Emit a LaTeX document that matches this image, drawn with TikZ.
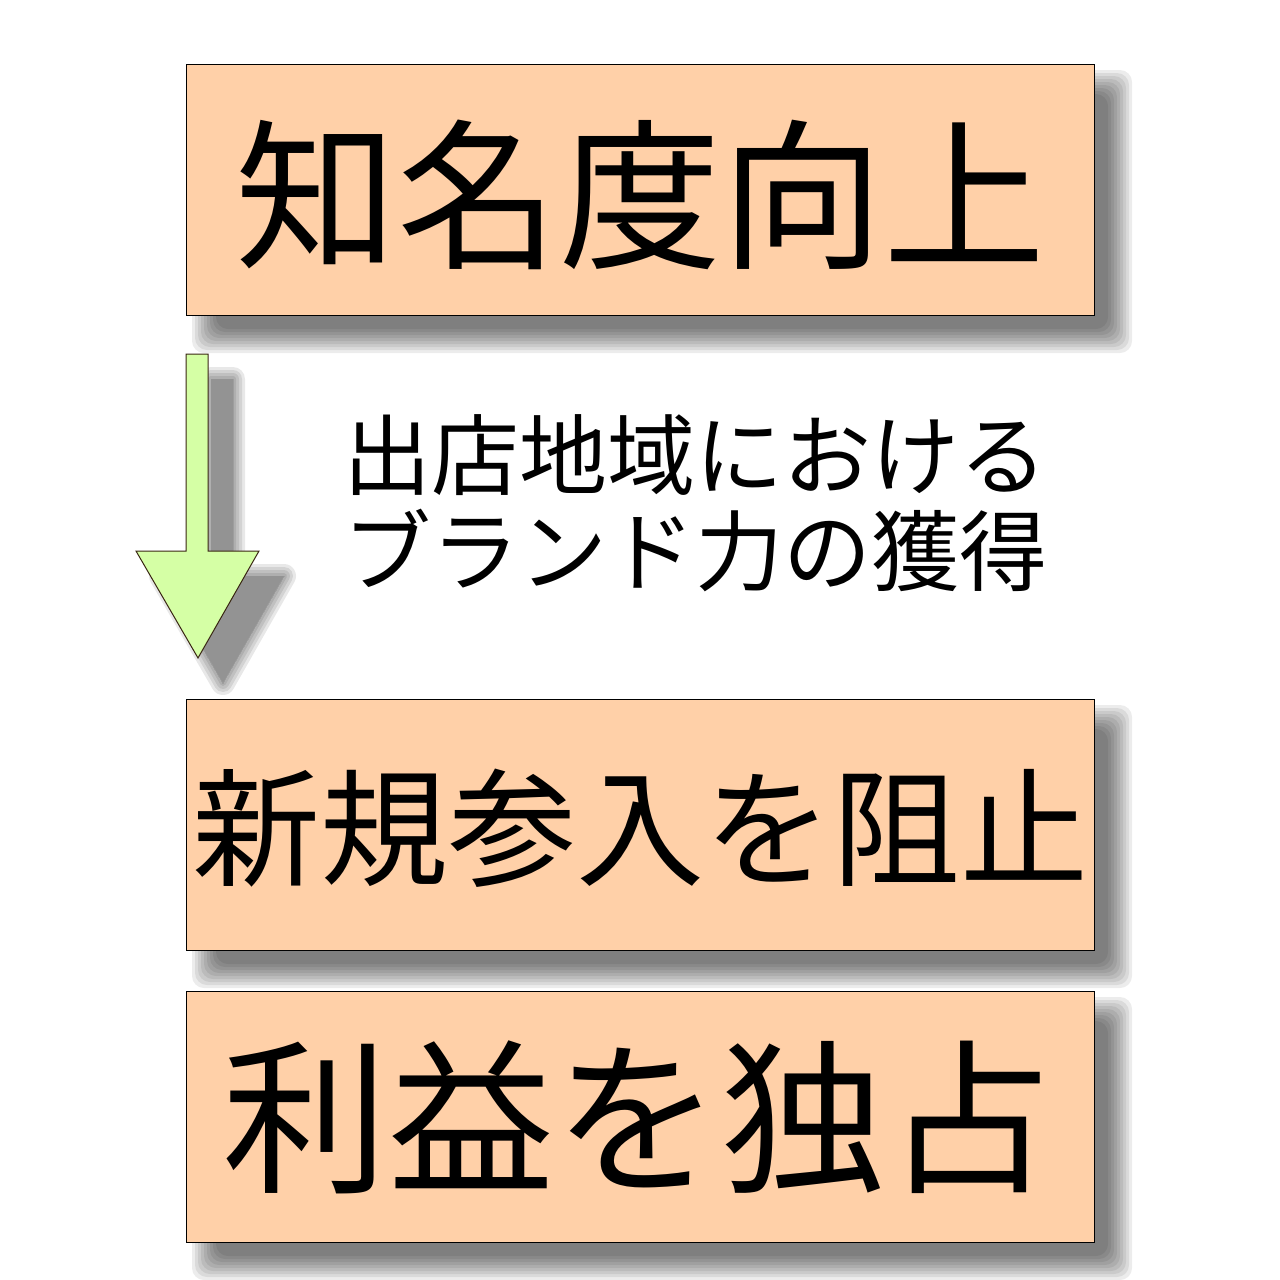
\documentclass[tikz,border=0pt]{standalone}
\usepackage{fontspec}
\setmainfont{Noto Sans CJK JP}
\definecolor{peach}{HTML}{FFD0A8}
\definecolor{lgreen}{HTML}{D5FFA5}
\tikzset{
  box/.style={draw=black, line width=1.2pt, fill=peach, minimum width=908pt, minimum height=251pt, inner sep=0pt, anchor=north west},
}
\newcommand{\boxshadow}[2]{% x,y of top-left
  \foreach \r in {16,13,10,7,4,1,-2,-5,-8}{
    \fill[black, opacity=0.075, rounded corners=12pt] (#1+22-\r,#2+22-\r) rectangle (#1+22+908+\r,#2+22+251+\r);
  }
}
\newcommand{\arrowpath}{(211,379) -- (233,379) -- (233,576) -- (284,576) -- (223,683) -- (161,576) -- (211,576) -- cycle}
\begin{document}
\begin{tikzpicture}[x=1pt,y=-1pt]
\useasboundingbox (0,0) rectangle (1280,1280);
% shadows
\boxshadow{186}{64}
\boxshadow{186}{699}
\boxshadow{186}{991}
% arrow shadow
\foreach \r in {24,18,12,6,0}{
  \begin{scope}[transparency group, opacity=0.09]
    \filldraw[black, line width=\r pt, line join=round] \arrowpath;
  \end{scope}
}
\fill[black, opacity=0.08] \arrowpath;
% boxes
\node[box] (b1) at (186,64) {};
\node[box] (b2) at (186,699) {};
\node[box] (b3) at (186,991) {};
\node[font=\fontsize{162}{170}\selectfont, inner sep=0pt] (t1) at (640,195) {知名度向上};
\node[font=\fontsize{128}{136}\selectfont, inner sep=0pt] (t2) at (640,828) {新規参入を阻止};
\node[font=\fontsize{166}{172}\selectfont, inner sep=0pt] (t3) at (637,1117) {利益を独占};
% arrow
\draw[fill=lgreen, draw=black!70!brown, line width=1pt, line join=miter] (186,354) -- (208,354) -- (208,551) -- (259,551) -- (198,658) -- (136,551) -- (186,551) -- cycle;
% middle label
\node[font=\fontsize{88}{96}\selectfont, align=left, inner sep=0pt] (lbl) at (695,503) {出店地域における\\ブランド力の獲得};
\end{tikzpicture}
\end{document}
